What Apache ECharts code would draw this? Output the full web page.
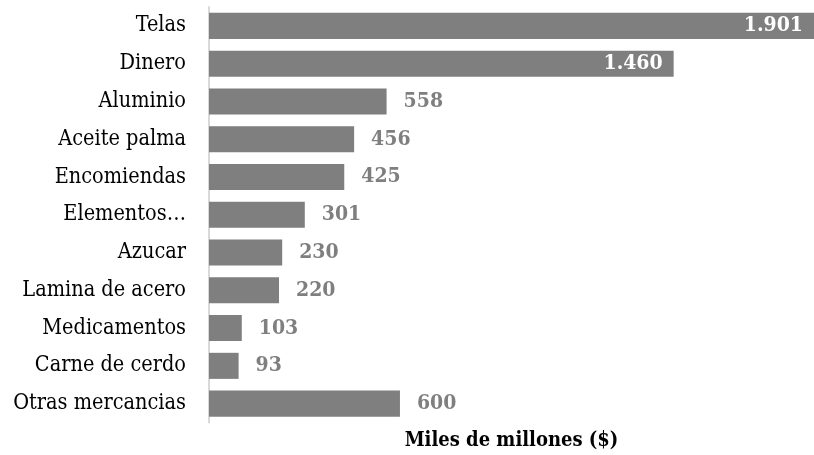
<!DOCTYPE html>
<html><head><meta charset="utf-8">
<script src="https://cdn.jsdelivr.net/npm/echarts@6/dist/echarts.min.js"></script>
<style>html,body{margin:0;padding:0;background:#fff}#c{width:814px;height:455px}</style>
</head><body><div id="c"></div>
<script>
const categories = ["Telas","Dinero","Aluminio","Aceite palma","Encomiendas","Elementos…","Azucar","Lamina de acero","Medicamentos","Carne de cerdo","Otras mercancias"];
const values = [1901,1460,558,456,425,301,230,220,103,93,600];
const insideLabels = ["Telas","Dinero"];
const axisTitle = "Miles de millones ($)";

const fmt = v => String(v).replace(/\B(?=(\d{3})+(?!\d))/g, ".");
const font = "'DejaVu Serif Condensed', 'DejaVu Serif', serif";

const data = values.map((v, i) => {
  const inside = insideLabels.includes(categories[i]);
  return {
    value: v,
    label: inside
      ? { position: 'insideRight', color: '#ffffff', distance: 11 }
      : { position: 'right', color: '#7f7f7f', distance: 17 }
  };
});

const chart = echarts.init(document.getElementById('c'));
chart.setOption({
  animation: false,
  grid: { left: 209, right: 0, top: 7, bottom: 32.5, containLabel: false, outerBoundsMode: 'none' },
  xAxis: {
    type: 'value', min: 0, max: 1901,
    axisLabel: { show: false }, splitLine: { show: false },
    axisLine: { show: false }, axisTick: { show: false },
    name: axisTitle, nameLocation: 'middle', nameGap: 8,
    nameTextStyle: { fontFamily: font, fontWeight: 'bold', fontSize: 20, color: '#000' }
  },
  yAxis: {
    type: 'category', data: categories, inverse: true,
    axisLine: { lineStyle: { color: '#d9d9d9', width: 2 } },
    axisTick: { show: false },
    axisLabel: { fontFamily: font, fontSize: 21.5, color: '#000', margin: 23 }
  },
  series: [{
    type: 'bar', data: data, barWidth: '69%',
    itemStyle: { color: '#7f7f7f' },
    label: { show: true, fontFamily: font, fontWeight: 'bold', fontSize: 21, formatter: p => fmt(p.value) }
  }]
});
</script></body></html>
